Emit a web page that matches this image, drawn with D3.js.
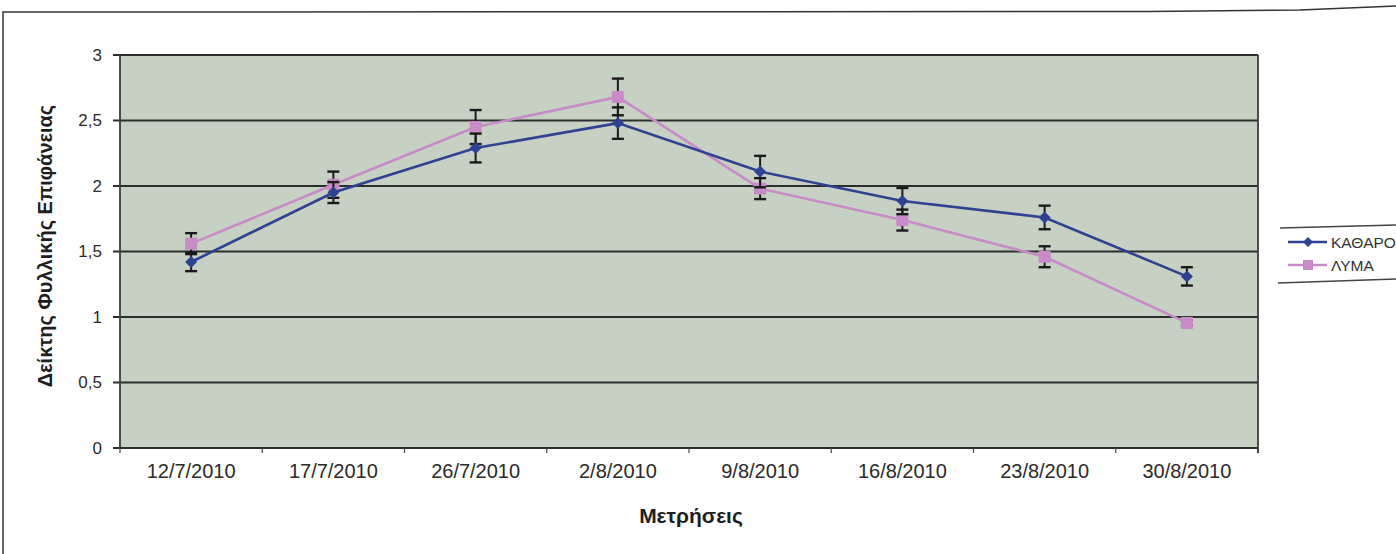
<!DOCTYPE html>
<html>
<head>
<meta charset="utf-8">
<script src="https://cdn.jsdelivr.net/npm/d3@7"></script>
<style>
  html, body { margin: 0; padding: 0; background: #fff; }
  svg { display: block; }
  text { font-family: Arial, "Liberation Sans", sans-serif; }
</style>
</head>
<body>
<svg id="chart" width="1396" height="554"></svg>
<script>
// Measurement dates
const categories = ["12/7/2010", "17/7/2010", "26/7/2010", "2/8/2010", "9/8/2010", "16/8/2010", "23/8/2010", "30/8/2010"];
// Leaf area index, clean water (ΚΑΘΑΡΟ) and wastewater (ΛΥΜΑ), with standard errors
const kathro = [1.42, 1.95, 2.29, 2.48, 2.11, 1.885, 1.76, 1.31];
const kathroErr = [0.07, 0.08, 0.11, 0.12, 0.12, 0.10, 0.09, 0.07];
const lyma = [1.56, 2.01, 2.45, 2.68, 1.98, 1.74, 1.46, 0.955];
const lymaErr = [0.08, 0.10, 0.13, 0.14, 0.08, 0.08, 0.08, 0.02];
const yTicks = [0, 0.5, 1, 1.5, 2, 2.5, 3];
const seriesNames = ["ΚΑΘΑΡΟ", "ΛΥΜΑ"];

const svg = d3.select("#chart");
const plot = { left: 120, right: 1258, top: 55, bottom: 448 };

const x = d3.scaleBand().domain(categories).range([plot.left, plot.right]).padding(0);
const y = d3.scaleLinear().domain([0, 3]).range([plot.bottom, plot.top]);
const cx = d => x(d) + x.bandwidth() / 2;
const fmt = v => String(v).replace(".", ",");

// Outer frame (top and left edge)
svg.append("path")
  .attr("d", "M3,554 L3,12 L1150,11.5 L1300,10 L1396,6")
  .attr("fill", "none").attr("stroke", "#333").attr("stroke-width", 1.5);

// Plot background
svg.append("rect")
  .attr("x", plot.left).attr("y", plot.top)
  .attr("width", plot.right - plot.left).attr("height", plot.bottom - plot.top)
  .attr("fill", "#c6d1c4");

// Horizontal gridlines
svg.append("g").selectAll("line").data(yTicks).join("line")
  .attr("x1", plot.left - 7).attr("x2", plot.right)
  .attr("y1", d => y(d)).attr("y2", d => y(d))
  .attr("stroke", "#2b2f2b").attr("stroke-width", 1.8);

// Plot area side borders
svg.append("line").attr("x1", plot.left).attr("x2", plot.left)
  .attr("y1", plot.top).attr("y2", plot.bottom)
  .attr("stroke", "#3a3f3a").attr("stroke-width", 1.8);
svg.append("line").attr("x1", plot.right).attr("x2", plot.right)
  .attr("y1", plot.top).attr("y2", plot.bottom + 5)
  .attr("stroke", "#3a3f3a").attr("stroke-width", 1.8);

// Y axis labels
const yAxis = d3.axisLeft(y).tickValues(yTicks).tickFormat(fmt).tickSize(0).tickPadding(18);
const gy = svg.append("g").attr("transform", `translate(${plot.left},0)`).call(yAxis);
gy.select(".domain").remove();
gy.selectAll("text").attr("font-size", 17).attr("fill", "#2a2a2a")
  .attr("font-family", "Arial, 'Liberation Sans', sans-serif");

// X axis with tick marks at category boundaries
const xAxis = d3.axisBottom(x).tickSize(0).tickPadding(16);
const gx = svg.append("g").attr("transform", `translate(0,${plot.bottom})`).call(xAxis);
gx.select(".domain").attr("stroke", "#2b2f2b").attr("stroke-width", 1.8)
  .attr("d", `M${plot.left - 7},0H${plot.right}`);
gx.selectAll("text").attr("font-size", 20).attr("fill", "#2a2a2a")
  .attr("font-family", "Arial, 'Liberation Sans', sans-serif");
svg.append("g").selectAll("line").data(categories.concat(["end"])).join("line")
  .attr("x1", (d, i) => plot.left + i * x.bandwidth())
  .attr("x2", (d, i) => plot.left + i * x.bandwidth())
  .attr("y1", plot.bottom).attr("y2", plot.bottom + 5)
  .attr("stroke", "#444").attr("stroke-width", 1.2);

// Axis titles
svg.append("text")
  .attr("transform", `translate(52,${246}) rotate(-90)`)
  .attr("text-anchor", "middle").attr("font-size", 20).attr("font-weight", "bold")
  .attr("fill", "#1e1e1e").text("Δείκτης Φυλλικής Επιφάνειας");
svg.append("text")
  .attr("x", 691).attr("y", 523)
  .attr("text-anchor", "middle").attr("font-size", 21).attr("font-weight", "bold")
  .attr("fill", "#1e1e1e").text("Μετρήσεις");

const colors = { kathro: "#2f4193", lyma: "#c98ac8" };
const line = d3.line().x(d => cx(d.c)).y(d => y(d.v));

function drawSeries(values, errs, color, marker) {
  const data = categories.map((c, i) => ({ c, v: values[i], e: errs[i] }));
  const g = svg.append("g");
  g.append("path").datum(data).attr("d", line)
    .attr("fill", "none").attr("stroke", color).attr("stroke-width", 2.6);
  // error bars
  const eb = g.append("g").selectAll("g").data(data).join("g");
  eb.append("line")
    .attr("x1", d => cx(d.c)).attr("x2", d => cx(d.c))
    .attr("y1", d => y(d.v - d.e)).attr("y2", d => y(d.v + d.e))
    .attr("stroke", "#1a1a1a").attr("stroke-width", 2);
  [-1, 1].forEach(s => {
    eb.append("line")
      .attr("x1", d => cx(d.c) - 6).attr("x2", d => cx(d.c) + 6)
      .attr("y1", d => y(d.v + s * d.e)).attr("y2", d => y(d.v + s * d.e))
      .attr("stroke", "#1a1a1a").attr("stroke-width", 2.4);
  });
  // markers
  if (marker === "square") {
    g.append("g").selectAll("rect").data(data).join("rect")
      .attr("x", d => cx(d.c) - 6).attr("y", d => y(d.v) - 6)
      .attr("width", 12).attr("height", 12).attr("fill", color);
  } else {
    g.append("g").selectAll("path").data(data).join("path")
      .attr("transform", d => `translate(${cx(d.c)},${y(d.v)})`)
      .attr("d", "M0,-6L6,0L0,6L-6,0Z").attr("fill", color);
  }
}

drawSeries(lyma, lymaErr, colors.lyma, "square");
drawSeries(kathro, kathroErr, colors.kathro, "diamond");

// Legend
const legend = svg.append("g");
legend.append("line").attr("x1", 1280).attr("x2", 1396).attr("y1", 228).attr("y2", 225)
  .attr("stroke", "#444").attr("stroke-width", 1.4);
legend.append("line").attr("x1", 1278).attr("x2", 1396).attr("y1", 283).attr("y2", 279)
  .attr("stroke", "#444").attr("stroke-width", 1.4);
const items = [
  { name: seriesNames[0], color: colors.kathro, marker: "diamond", yy: 242 },
  { name: seriesNames[1], color: colors.lyma, marker: "square", yy: 265 }
];
items.forEach(it => {
  legend.append("line").attr("x1", 1288).attr("x2", 1327).attr("y1", it.yy).attr("y2", it.yy)
    .attr("stroke", it.color).attr("stroke-width", 2.4);
  if (it.marker === "square") {
    legend.append("rect").attr("x", 1303).attr("y", it.yy - 5).attr("width", 10).attr("height", 10)
      .attr("fill", it.color);
  } else {
    legend.append("path").attr("transform", `translate(1308,${it.yy})`)
      .attr("d", "M0,-5L5,0L0,5L-5,0Z").attr("fill", it.color);
  }
  legend.append("text").attr("x", 1331).attr("y", it.yy + 6)
    .attr("font-size", 15.5).attr("fill", "#333").text(it.name);
});
</script>
</body>
</html>
